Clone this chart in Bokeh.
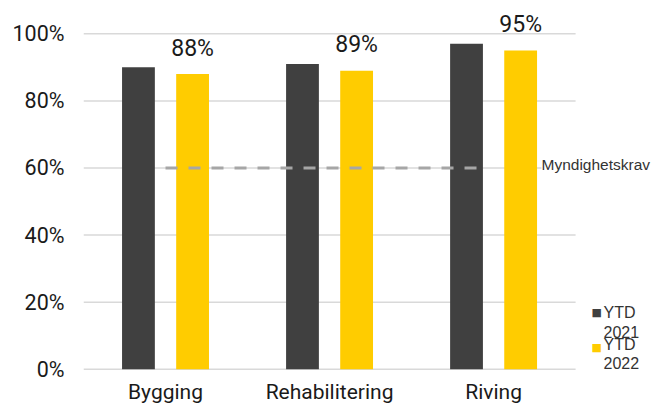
from bokeh.plotting import figure
from bokeh.models import ColumnDataSource, Range1d, Label, CustomJSTickFormatter
from bokeh.core.properties import value
from bokeh.embed import file_html
from bokeh.resources import INLINE

categories = ["Bygging", "Rehabilitering", "Riving"]
ytd_2021 = [90, 91, 97]
ytd_2022 = [88, 89, 95]
value_labels = ["88%", "89%", "95%"]
requirement = 60
requirement_label = "Myndighetskrav"
legend_labels = ["YTD\n2021", "YTD\n2022"]
y_ticks = [0, 20, 40, 60, 80, 100]

DARK = "#404040"
YELLOW = "#FFCC00"
GRID = "#D9D9D9"
TXT = "#1a1a1a"

n = len(categories)
pos = [i + 0.5 for i in range(n)]
off = 0.165
src = ColumnDataSource(dict(cat=categories, pos=pos,
                            x21=[x - off for x in pos], x22=[x + off for x in pos],
                            y21=ytd_2021, y22=ytd_2022, lab=value_labels))

p = figure(x_range=Range1d(0, 3.481), y_range=Range1d(-10.82, 109.93),
           width=654, height=405, output_backend="svg", toolbar_location=None,
           min_border_left=83, min_border_right=0, min_border_top=0, min_border_bottom=0)
p.outline_line_color = None
p.xaxis.visible = False
p.xgrid.grid_line_color = None
p.ygrid.grid_line_color = None

# horizontal gridlines limited to the category area
p.segment(x0=[0] * len(y_ticks), x1=[n] * len(y_ticks), y0=y_ticks, y1=y_ticks,
          line_color=GRID, line_width=1.5)

p.vbar(x="x21", top="y21", width=0.2, source=src, fill_color=DARK, line_color=None)
p.vbar(x="x22", top="y22", width=0.2, source=src, fill_color=YELLOW, line_color=None)

# requirement line
p.line(x=[pos[0], pos[-1] - 0.07], y=[requirement, requirement],
       line_color="#A6A6A6", line_width=3, line_dash="12 11")

# value labels above 2022 bars
p.text(x="x22", y="y22", text="lab", source=src,
       y_offset=-26, text_align="center", text_baseline="alphabetic",
       text_font=value("Roboto"), text_font_size="23px", text_color=TXT)

# category labels
p.text(x="pos", y=0, text="cat", source=src, y_offset=11,
       text_align="center", text_baseline="top",
       text_font=value("Roboto"), text_font_size="21px", text_color=TXT)

p.yaxis.ticker = y_ticks
p.yaxis.formatter = CustomJSTickFormatter(code="return tick + '%';")
p.yaxis.axis_line_color = None
p.yaxis.major_tick_line_color = None
p.yaxis.minor_tick_line_color = None
p.yaxis.major_tick_out = 0
p.yaxis.minor_tick_out = 0
p.yaxis.major_label_text_font = "Roboto"
p.yaxis.major_label_text_font_size = "21.5px"
p.yaxis.major_label_text_color = TXT
p.yaxis.major_label_standoff = 19

p.add_layout(Label(x=458, y=requirement, x_units="screen", text=requirement_label,
                   text_font="Liberation Sans", text_font_size="15.5px", text_color="#333333",
                   text_baseline="middle", y_offset=3,
                   background_fill_color="white"))

# manual legend
for col, ly in zip([DARK, YELLOW], [16.8, 6.4]):
    p.add_layout(Label(x=508, y=ly, x_units="screen", text="\u25A0",
                       text_font="DejaVu Sans", text_font_size="11px", text_color=col,
                       text_baseline="middle"))

for lab, ly in zip(legend_labels, [19.44, 9.99]):
    p.add_layout(Label(x=520, y=ly, x_units="screen", text=lab,
                       text_font="Liberation Sans", text_font_size="16px", text_color="#333333",
                       text_baseline="top", text_line_height=1.15))

open("out.html", "w").write(file_html(p, INLINE))
